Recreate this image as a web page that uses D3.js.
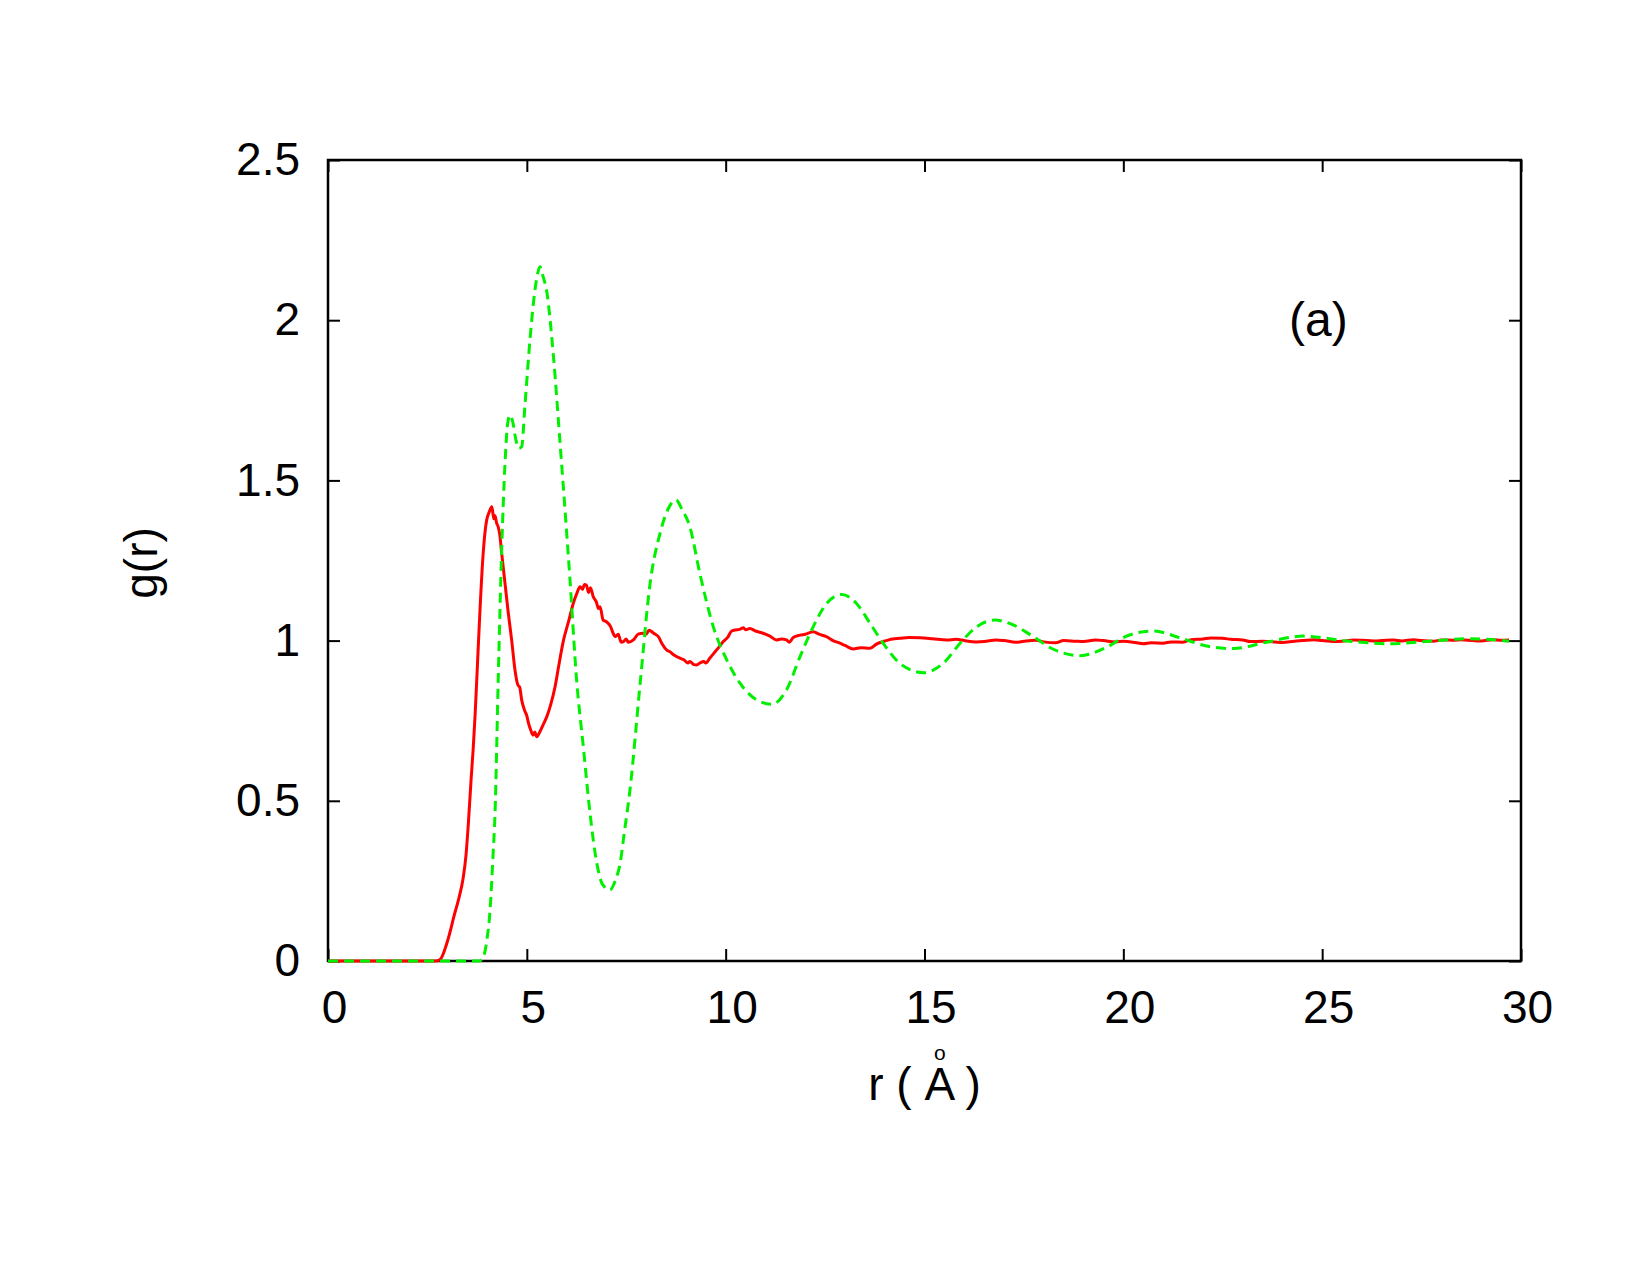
<!DOCTYPE html>
<html>
<head>
<meta charset="utf-8">
<script src="https://cdn.jsdelivr.net/npm/d3@7"></script>
<style>
  body { margin: 0; background: #fff; }
  svg text { font-family: "Liberation Sans", Arial, Helvetica, sans-serif; fill: #000; }
</style>
</head>
<body>
<div id="chart"></div>
<script>
const width = 1650;
const height = 1275;
const margin = { top: 160, right: 129, bottom: 314, left: 328 };
const innerW = width - margin.left - margin.right;
const innerH = height - margin.top - margin.bottom;

const xTicks = [0, 5, 10, 15, 20, 25, 30];
const yTicks = [0, 0.5, 1, 1.5, 2, 2.5];

// red solid curve: r, g(r)
const redR = [0, 2.7, 2.82, 3.0, 3.19, 3.3, 3.4, 3.47, 3.53, 3.6, 3.65, 3.7, 3.76, 3.82, 3.89, 3.95, 3.99, 4.05, 4.12, 4.17, 4.2, 4.24, 4.28, 4.32, 4.37, 4.45, 4.53, 4.62, 4.7, 4.78, 4.82, 4.87, 4.95, 5.0, 5.04, 5.1, 5.16, 5.2, 5.25, 5.33, 5.42, 5.5, 5.6, 5.71, 5.8, 5.92, 6.05, 6.17, 6.25, 6.34, 6.4, 6.45, 6.5, 6.55, 6.6, 6.67, 6.75, 6.8, 6.84, 6.92, 7.0, 7.1, 7.17, 7.22, 7.3, 7.37, 7.43, 7.5, 7.55, 7.68, 7.8, 7.93, 8.0, 8.07, 8.14, 8.2, 8.31, 8.4, 8.52, 8.6, 8.7, 8.85, 8.95, 9.05, 9.1, 9.2, 9.27, 9.35, 9.45, 9.5, 9.6, 9.7, 9.8, 9.94, 10.05, 10.15, 10.23, 10.35, 10.45, 10.5, 10.61, 10.75, 10.94, 11.1, 11.28, 11.4, 11.53, 11.6, 11.7, 11.87, 12.0, 12.2, 12.35, 12.54, 12.7, 12.87, 13.0, 13.21, 13.4, 13.63, 13.8, 13.96, 14.2, 14.38, 14.6, 14.89, 15.2, 15.56, 15.8, 16.0, 16.3, 16.5, 16.8, 17.0, 17.3, 17.5, 17.8, 18.0, 18.3, 18.5, 18.8, 19.0, 19.3, 19.5, 19.8, 20.0, 20.3, 20.5, 20.7, 21.0, 21.2, 21.5, 21.7, 22.0, 22.2, 22.5, 22.7, 23.0, 23.2, 23.5, 23.8, 24.0, 24.3, 24.5, 24.8, 25.0, 25.3, 25.5, 25.8, 26.0, 26.3, 26.5, 26.8, 27.0, 27.3, 27.5, 27.8, 28.0, 28.3, 28.5, 28.8, 29.0, 29.3, 29.5, 29.7];
const redG = [0, 0, 0.005, 0.06, 0.15, 0.2, 0.26, 0.33, 0.43, 0.57, 0.66, 0.77, 0.93, 1.09, 1.25, 1.34, 1.376, 1.4, 1.418, 1.38, 1.39, 1.367, 1.355, 1.33, 1.27, 1.18, 1.09, 1.0, 0.91, 0.86, 0.855, 0.815, 0.78, 0.765, 0.743, 0.72, 0.705, 0.715, 0.7, 0.716, 0.74, 0.762, 0.8, 0.856, 0.92, 1.0, 1.06, 1.117, 1.145, 1.168, 1.16, 1.175, 1.173, 1.15, 1.165, 1.137, 1.12, 1.1, 1.106, 1.064, 1.059, 1.045, 1.023, 1.012, 1.02, 0.995, 0.997, 1.005, 0.995, 1.002, 1.02, 1.023, 1.02, 1.032, 1.028, 1.022, 1.012, 0.99, 0.97, 0.965, 0.955, 0.945, 0.94, 0.93, 0.935, 0.925, 0.924, 0.93, 0.935, 0.93, 0.945, 0.96, 0.975, 0.997, 1.01, 1.03, 1.033, 1.035, 1.04, 1.034, 1.038, 1.03, 1.023, 1.015, 1.002, 1.005, 1.002, 0.995, 1.01, 1.017, 1.02, 1.028, 1.02, 1.012, 1.0, 0.992, 0.985, 0.974, 0.978, 0.976, 0.99, 0.997, 1.005, 1.007, 1.01, 1.009, 1.006, 1.002, 1.004, 1.0, 0.996, 0.997, 1.002, 1.0, 0.995, 0.998, 1.001, 0.996, 0.993, 1.0, 0.998, 0.997, 1.002, 1.0, 0.996, 0.998, 0.994, 0.99, 0.993, 0.992, 0.996, 0.995, 1.003, 1.005, 1.008, 1.007, 1.004, 1.002, 0.997, 0.998, 0.996, 0.994, 0.998, 1.0, 1.003, 1.0, 0.997, 0.998, 1.002, 1.001, 0.999, 1.0, 1.002, 0.999, 1.003, 1.0, 0.998, 1.002, 1.001, 1.003, 1.0, 0.999, 1.003, 1.001, 1.002, 1.0];

// green dashed curve: r, g(r)
const greenR = [0, 3.8, 3.9, 4.0, 4.07, 4.15, 4.2, 4.28, 4.37, 4.45, 4.52, 4.58, 4.65, 4.72, 4.8, 4.87, 4.95, 5.08, 5.2, 5.28, 5.33, 5.4, 5.5, 5.67, 5.83, 6.0, 6.08, 6.25, 6.42, 6.59, 6.76, 6.9, 7.09, 7.25, 7.34, 7.45, 7.59, 7.85, 8.1, 8.35, 8.55, 8.75, 8.9, 9.1, 9.35, 9.69, 10.03, 10.36, 10.78, 11.16, 11.53, 11.87, 12.2, 12.54, 12.92, 13.29, 13.63, 13.96, 14.38, 14.97, 15.47, 15.93, 16.31, 16.77, 17.23, 17.74, 18.24, 18.91, 19.58, 20.08, 20.75, 21.42, 22.09, 22.76, 23.6, 24.52, 25.61, 26.7, 27.7, 28.7, 29.7];
const greenG = [0, 0, 0.01, 0.07, 0.15, 0.33, 0.46, 0.877, 1.293, 1.55, 1.68, 1.704, 1.68, 1.63, 1.6, 1.605, 1.73, 1.94, 2.09, 2.15, 2.167, 2.14, 2.09, 1.886, 1.626, 1.34, 1.2, 0.88, 0.669, 0.46, 0.305, 0.24, 0.222, 0.26, 0.3, 0.4, 0.53, 0.867, 1.179, 1.335, 1.41, 1.439, 1.41, 1.355, 1.21, 1.043, 0.939, 0.867, 0.815, 0.801, 0.846, 0.95, 1.043, 1.116, 1.144, 1.116, 1.054, 0.992, 0.929, 0.9, 0.929, 0.997, 1.043, 1.064, 1.049, 1.012, 0.973, 0.953, 0.979, 1.014, 1.03, 1.009, 0.983, 0.975, 0.995, 1.014, 0.999, 0.99, 0.998, 1.006, 0.998];

const svg = d3.select("#chart").append("svg")
    .attr("width", width)
    .attr("height", height);

const g = svg.append("g")
    .attr("transform", `translate(${margin.left},${margin.top})`);

const x = d3.scaleLinear().domain([0, 30]).range([0, innerW]);
const y = d3.scaleLinear().domain([0, 2.5]).range([innerH, 0]);

// frame
g.append("rect")
    .attr("width", innerW)
    .attr("height", innerH)
    .attr("fill", "none")
    .attr("stroke", "#000")
    .attr("stroke-width", 2.5);

// ticks on all four sides, pointing inward
const tickLen = 12;
const axBottom = g.append("g")
    .attr("transform", `translate(0,${innerH})`)
    .call(d3.axisBottom(x).tickValues(xTicks).tickSize(-tickLen).tickPadding(29).tickFormat(d => d));
const axTop = g.append("g")
    .call(d3.axisTop(x).tickValues(xTicks).tickSize(-tickLen).tickFormat(""));
const axLeft = g.append("g")
    .call(d3.axisLeft(y).tickValues(yTicks).tickSize(-tickLen).tickPadding(28).tickFormat(d => d));
const axRight = g.append("g")
    .attr("transform", `translate(${innerW},0)`)
    .call(d3.axisRight(y).tickValues(yTicks).tickSize(-tickLen).tickFormat(""));

[axBottom, axTop, axLeft, axRight].forEach(a => {
    a.select(".domain").remove();
    a.selectAll(".tick line").attr("stroke", "#000").attr("stroke-width", 2);
    a.selectAll("text").style("font-size", "46px").attr("fill", "#000");
});
axBottom.selectAll("text").attr("dx", 6);

// curves
const line = d3.line()
    .x(d => x(d[0]))
    .y(d => y(d[1]))
    .curve(d3.curveMonotoneX);

const redData = redR.map((r, i) => [r, redG[i]]);
const greenData = greenR.map((r, i) => [r, greenG[i]]);

g.append("path")
    .datum(redData)
    .attr("d", line)
    .attr("fill", "none")
    .attr("stroke", "#ff0000")
    .attr("stroke-width", 3);

g.append("path")
    .datum(greenData)
    .attr("d", line)
    .attr("fill", "none")
    .attr("stroke", "#00f000")
    .attr("stroke-width", 3)
    .attr("stroke-dasharray", "10,6");

// axis titles
svg.append("text")
    .attr("transform", "translate(157,563) rotate(-90)")
    .attr("text-anchor", "middle")
    .style("font-size", "46px")
    .text("g(r)");

// x title: small ring set above the A, all in one text element
const xLabel = svg.append("text")
    .attr("x", margin.left + innerW / 2)
    .attr("y", 1100)
    .attr("text-anchor", "middle")
    .style("font-size", "46px");
xLabel.append("tspan").text("r ( ");
xLabel.append("tspan")
    .attr("dx", 9.5)
    .attr("dy", -40)
    .style("font-size", "21px")
    .text("o");
xLabel.append("tspan")
    .attr("dx", -21.2)
    .attr("dy", 40)
    .text("A");
xLabel.append("tspan").text(" )");

// panel label
svg.append("text")
    .attr("x", 1289)
    .attr("y", 336)
    .style("font-size", "48px")
    .text("(a)");
</script>
</body>
</html>
